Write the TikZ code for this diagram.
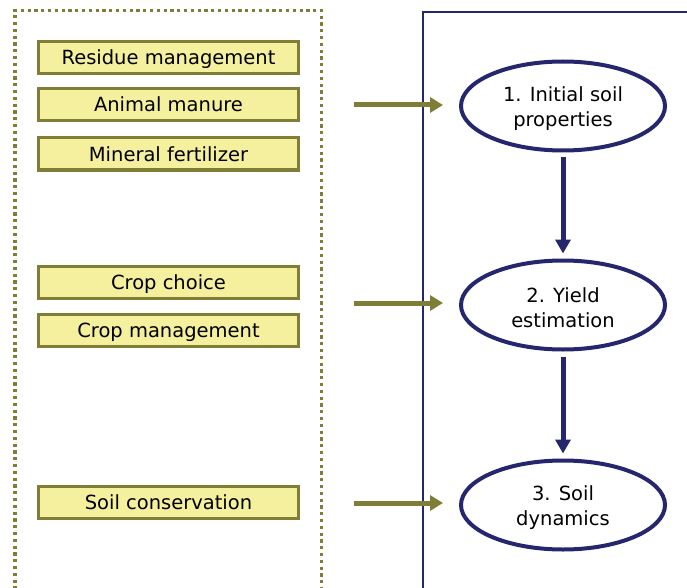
\documentclass[tikz,border=0pt]{standalone}
\usepackage{fontspec}
\setmainfont{DejaVu Sans}
\usetikzlibrary{arrows.meta,shapes.geometric}

\definecolor{olive}{HTML}{7E7E36}
\definecolor{boxfill}{HTML}{F4F09E}
\definecolor{navy}{HTML}{26266E}

% strut that lowers the two-line ellipse labels a little
\newcommand{\toplift}{\rule{0pt}{21pt}}

\tikzset{
  factor/.style={draw=olive, fill=boxfill, line width=3pt, minimum width=260pt,
    minimum height=32pt, inner sep=0pt, text height=16pt, text depth=2pt,
    font=\fontsize{19.5}{22}\selectfont},
  stage/.style={ellipse, draw=navy, line width=4pt, minimum width=204pt,
    minimum height=89pt, inner sep=0pt, align=center,
    font=\fontsize{19.5}{25}\selectfont},
  feed/.style={draw=olive, line width=5pt, -{Triangle[length=13pt,width=15pt]},
    shorten >=16pt},
  flow/.style={draw=navy, line width=5pt, -{Triangle[length=14pt,width=15pt]},
    shorten >=5pt, shorten <=5pt},
}

\begin{document}
\begin{tikzpicture}[x=1pt,y=-1pt]
  \useasboundingbox (0,0) rectangle (687,588);
  \begin{scope}
    \clip (0,0) rectangle (687,588);
    % management options frame
    \draw[olive, line width=3.2pt, dash pattern=on 3.2pt off 3.6pt]
      (15,610) -- (15,10.5) -- (321.5,10.5) -- (321.5,610);
    % model frame
    \draw[navy, line width=2pt] (422.5,610) -- (422.5,12) -- (700,12);
  \end{scope}

  % management factors
  \node[factor] (res)  at (168.5,57.5) {Residue management};
  \node[factor] (man)  at (168.5,105)  {Animal manure};
  \node[factor] (min)  at (168.5,154)  {Mineral fertilizer};
  \node[factor] (cc)   at (168.5,282)  {Crop choice};
  \node[factor] (cm)   at (168.5,330)  {Crop management};
  \node[factor] (scon) at (168.5,502.5) {Soil conservation};

  % model stages
  \node[stage] (s1) at (563,106) {\toplift1. Initial soil\\properties};
  \node[stage] (s2) at (563,305) {\toplift2. Yield\\estimation};
  \node[stage] (s3) at (563,505) {\toplift3. Soil\\dynamics};

  % inputs into the stages
  \coordinate (f1) at (354,105);
  \coordinate (f2) at (354,303);
  \coordinate (f3) at (354,503);
  \draw[feed] (f1) -- (f1 -| s1.west);
  \draw[feed] (f2) -- (f2 -| s2.west);
  \draw[feed] (f3) -- (f3 -| s3.west);

  % stage sequence
  \draw[flow] (s1.south) -- (s2.north);
  \draw[flow] (s2.south) -- (s3.north);
\end{tikzpicture}
\end{document}
